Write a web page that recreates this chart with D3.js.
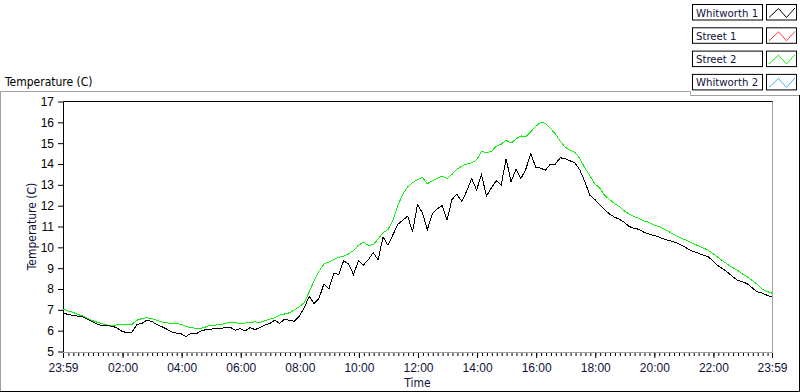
<!DOCTYPE html>
<html>
<head>
<meta charset="utf-8">
<script src="https://cdn.jsdelivr.net/npm/d3@7"></script>
<style>
  body { margin: 0; background: #fff; }
  svg { display: block; font-family: "DejaVu Sans Condensed", "DejaVu Sans", sans-serif; font-stretch: condensed; }
</style>
</head>
<body>
<svg id="chart" width="800" height="392"></svg>
<script>
// series names and colours of the legend
const seriesNames = ["Whitworth 1", "Street 1", "Street 2", "Whitworth 2"];
const seriesColors = ["#000000", "#ff4040", "#11ee11", "#3cb4ff"];

// one sample every 10 minutes from 23:59 to 23:59 the next day
const sampleStep = 10;

// Whitworth 1 (black)
const whitworth1 = [
  6.85, 6.78, 6.73, 6.70, 6.66, 6.55, 6.42, 6.30, 6.24, 6.23, 6.22, 6.12,
  5.97, 5.90, 5.92, 6.30, 6.35, 6.50, 6.45, 6.30, 6.20, 6.08, 5.95, 5.88,
  5.85, 5.72, 5.88, 5.84, 5.98, 6.05, 6.07, 6.10, 6.11, 6.14, 6.16, 6.02,
  6.10, 5.98, 6.15, 6.05, 6.15, 6.27, 6.35, 6.50, 6.35, 6.55, 6.50, 6.45,
  6.70, 7.10, 7.65, 7.30, 7.55, 8.25, 8.00, 8.75, 8.70, 9.35, 9.20, 8.70,
  9.35, 9.15, 9.40, 9.75, 9.40, 10.50, 10.10, 10.60, 11.10, 11.30, 11.50, 10.75,
  12.05, 11.65, 10.85, 11.60, 11.85, 12.00, 11.30, 12.30, 12.55, 12.20, 12.70, 13.30,
  12.75, 13.50, 12.45, 12.85, 13.20, 13.00, 14.25, 13.15, 13.75, 13.30, 13.75, 14.50,
  13.85, 13.80, 13.70, 14.00, 14.00, 14.30, 14.25, 14.15, 14.05, 13.70, 13.15, 12.50,
  12.30, 12.05, 11.80, 11.60, 11.45, 11.35, 11.20, 11.00, 10.90, 10.87, 10.72, 10.64,
  10.57, 10.50, 10.40, 10.33, 10.27, 10.18, 10.05, 9.92, 9.80, 9.72, 9.63, 9.55,
  9.35, 9.12, 8.97, 8.80, 8.60, 8.42, 8.35, 8.25, 8.05, 7.87, 7.80, 7.70,
  7.62
];

// Street 2 (green)
const street2 = [
  7.04, 6.95, 6.88, 6.78, 6.70, 6.58, 6.48, 6.40, 6.33, 6.27, 6.25, 6.28,
  6.30, 6.27, 6.30, 6.50, 6.58, 6.62, 6.58, 6.50, 6.42, 6.38, 6.35, 6.33,
  6.31, 6.20, 6.14, 6.12, 6.11, 6.18, 6.27, 6.27, 6.28, 6.35, 6.40, 6.38,
  6.35, 6.37, 6.40, 6.42, 6.40, 6.48, 6.55, 6.62, 6.75, 6.80, 6.86, 7.00,
  7.15, 7.35, 7.85, 8.40, 8.85, 9.20, 9.30, 9.42, 9.52, 9.58, 9.68, 9.85,
  10.10, 10.25, 10.10, 10.12, 10.40, 10.70, 10.85, 11.30, 12.00, 12.55, 12.90, 13.10,
  13.25, 13.35, 13.05, 13.20, 13.30, 13.42, 13.30, 13.50, 13.75, 13.90, 14.00, 14.05,
  14.20, 14.60, 14.55, 14.60, 14.85, 14.95, 15.15, 15.00, 15.20, 15.35, 15.30, 15.55,
  15.80, 16.00, 15.95, 15.70, 15.45, 15.10, 14.80, 14.67, 14.55, 14.25, 13.80, 13.45,
  13.05, 12.85, 12.50, 12.30, 12.10, 11.95, 11.75, 11.60, 11.48, 11.38, 11.27, 11.20,
  11.08, 11.00, 10.88, 10.76, 10.62, 10.50, 10.40, 10.30, 10.18, 10.08, 9.97, 9.87,
  9.70, 9.52, 9.35, 9.18, 9.03, 8.90, 8.72, 8.58, 8.40, 8.22, 8.00, 7.88,
  7.80
];

const yTicks = [5, 6, 7, 8, 9, 10, 11, 12, 13, 14, 15, 16, 17];
const xTickLabels = ["23:59", "02:00", "04:00", "06:00", "08:00", "10:00", "12:00",
                     "14:00", "16:00", "18:00", "20:00", "22:00", "23:59"];

const svg = d3.select("#chart");
const start = new Date(2000, 0, 1, 23, 59);
const end = new Date(2000, 0, 2, 23, 59);

const plot = { left: 63, right: 772, top: 101.5, bottom: 351.5 };

const x = d3.scaleTime().domain([start, end]).range([plot.left, plot.right]);
const y = d3.scaleLinear().domain([5, 17]).range([plot.bottom, plot.top]);

const time = i => d3.timeMinute.offset(start, i * sampleStep);

// outer panel frame
svg.append("path")
  .attr("d", "M0.5,392V91.5H690.5V95.5H799")
  .attr("fill", "none").attr("stroke", "#a0a0a0");
svg.append("path")
  .attr("d", "M799.5,95V391.5H0")
  .attr("fill", "none").attr("stroke", "#000");

svg.append("text")
  .attr("x", 5).attr("y", 86)
  .attr("font-size", 12)
  .text("Temperature (C)");

// plot border: dark top/left, grey bottom/right
svg.append("path")
  .attr("d", `M${plot.left},${plot.bottom + 1}V${plot.top}H${plot.right + 0.5}`)
  .attr("transform", "translate(0.5,0)")
  .attr("fill", "none").attr("stroke", "#000");
svg.append("path")
  .attr("d", `M${plot.right + 0.5},${plot.top}V${plot.bottom + 1}H${plot.left}`)
  .attr("fill", "none").attr("stroke", "#a0a0a0");

// y axis
const yAxis = d3.axisLeft(y).tickValues(yTicks).tickSize(5).tickSizeOuter(0).tickPadding(4);
const gy = svg.append("g")
  .attr("transform", `translate(${plot.left},0)`)
  .call(yAxis);
gy.select(".domain").remove();
gy.selectAll(".tick line").attr("stroke", "#000");
gy.selectAll(".tick text")
  .attr("font-size", 12)
  .attr("font-family", null)
  .attr("fill", "#000");

// x axis, minor ticks every 10 minutes
const minorTimes = d3.timeMinute.every(10).range(d3.timeMinute.offset(start, 11), end);
const gxMinor = svg.append("g")
  .attr("transform", `translate(0,${plot.bottom + 1.5})`)
  .call(d3.axisBottom(x).tickValues(minorTimes).tickSize(3).tickSizeOuter(0).tickFormat(""));
gxMinor.select(".domain").remove();

const majorTimes = xTickLabels.map((s, i) => {
  if (i === 0) return start;
  if (i === xTickLabels.length - 1) return end;
  const [h, m] = s.split(":").map(Number);
  return new Date(2000, 0, 2, h, m);
});
const gx = svg.append("g")
  .attr("transform", `translate(0,${plot.bottom + 1.5})`)
  .call(d3.axisBottom(x).tickValues(majorTimes).tickSize(5).tickSizeOuter(0).tickPadding(5)
    .tickFormat((d, i) => xTickLabels[i]));
gx.select(".domain").remove();
gx.selectAll(".tick text")
  .attr("font-size", 12)
  .attr("font-family", null)
  .attr("fill", "#10103a");

// axis titles
svg.append("text")
  .attr("x", (plot.left + plot.right) / 2).attr("y", 387)
  .attr("text-anchor", "middle")
  .attr("font-size", 12)
  .attr("fill", "#10103a")
  .text("Time");
svg.append("text")
  .attr("transform", `translate(36,${(plot.top + plot.bottom) / 2}) rotate(-90)`)
  .attr("text-anchor", "middle")
  .attr("font-size", 12)
  .attr("fill", "#10103a")
  .text("Temperature (C)");

// lines
const line = d3.line()
  .x((d, i) => x(time(i)))
  .y(d => y(d));

svg.append("path")
  .datum(street2)
  .attr("fill", "none")
  .attr("stroke", seriesColors[2])
  .attr("stroke-width", 1)
  .attr("shape-rendering", "crispEdges")
  .attr("d", line);

svg.append("path")
  .datum(whitworth1)
  .attr("fill", "none")
  .attr("stroke", seriesColors[0])
  .attr("stroke-width", 1)
  .attr("shape-rendering", "crispEdges")
  .attr("d", line);

// legend
const legend = svg.append("g");
const rows = legend.selectAll("g")
  .data(seriesNames)
  .enter()
  .append("g")
  .attr("transform", (d, i) => `translate(0,${4 + i * 23.3})`);

rows.append("rect")
  .attr("x", 692.5).attr("y", 0.5)
  .attr("width", 70).attr("height", 15.5)
  .attr("fill", "#fff").attr("stroke", "#000");
rows.append("text")
  .attr("x", 696).attr("y", 12.5)
  .attr("font-size", 11.3)
  .attr("fill", "#10103a")
  .text(d => d);
rows.append("rect")
  .attr("x", 766.5).attr("y", 0.5)
  .attr("width", 30).attr("height", 15.5)
  .attr("fill", "#fff").attr("stroke", "#000");
rows.append("path")
  .attr("d", "M769,13.5L778.5,4.5L786.5,13.5L795,4")
  .attr("fill", "none")
  .attr("stroke", (d, i) => seriesColors[i]);
</script>
</body>
</html>
